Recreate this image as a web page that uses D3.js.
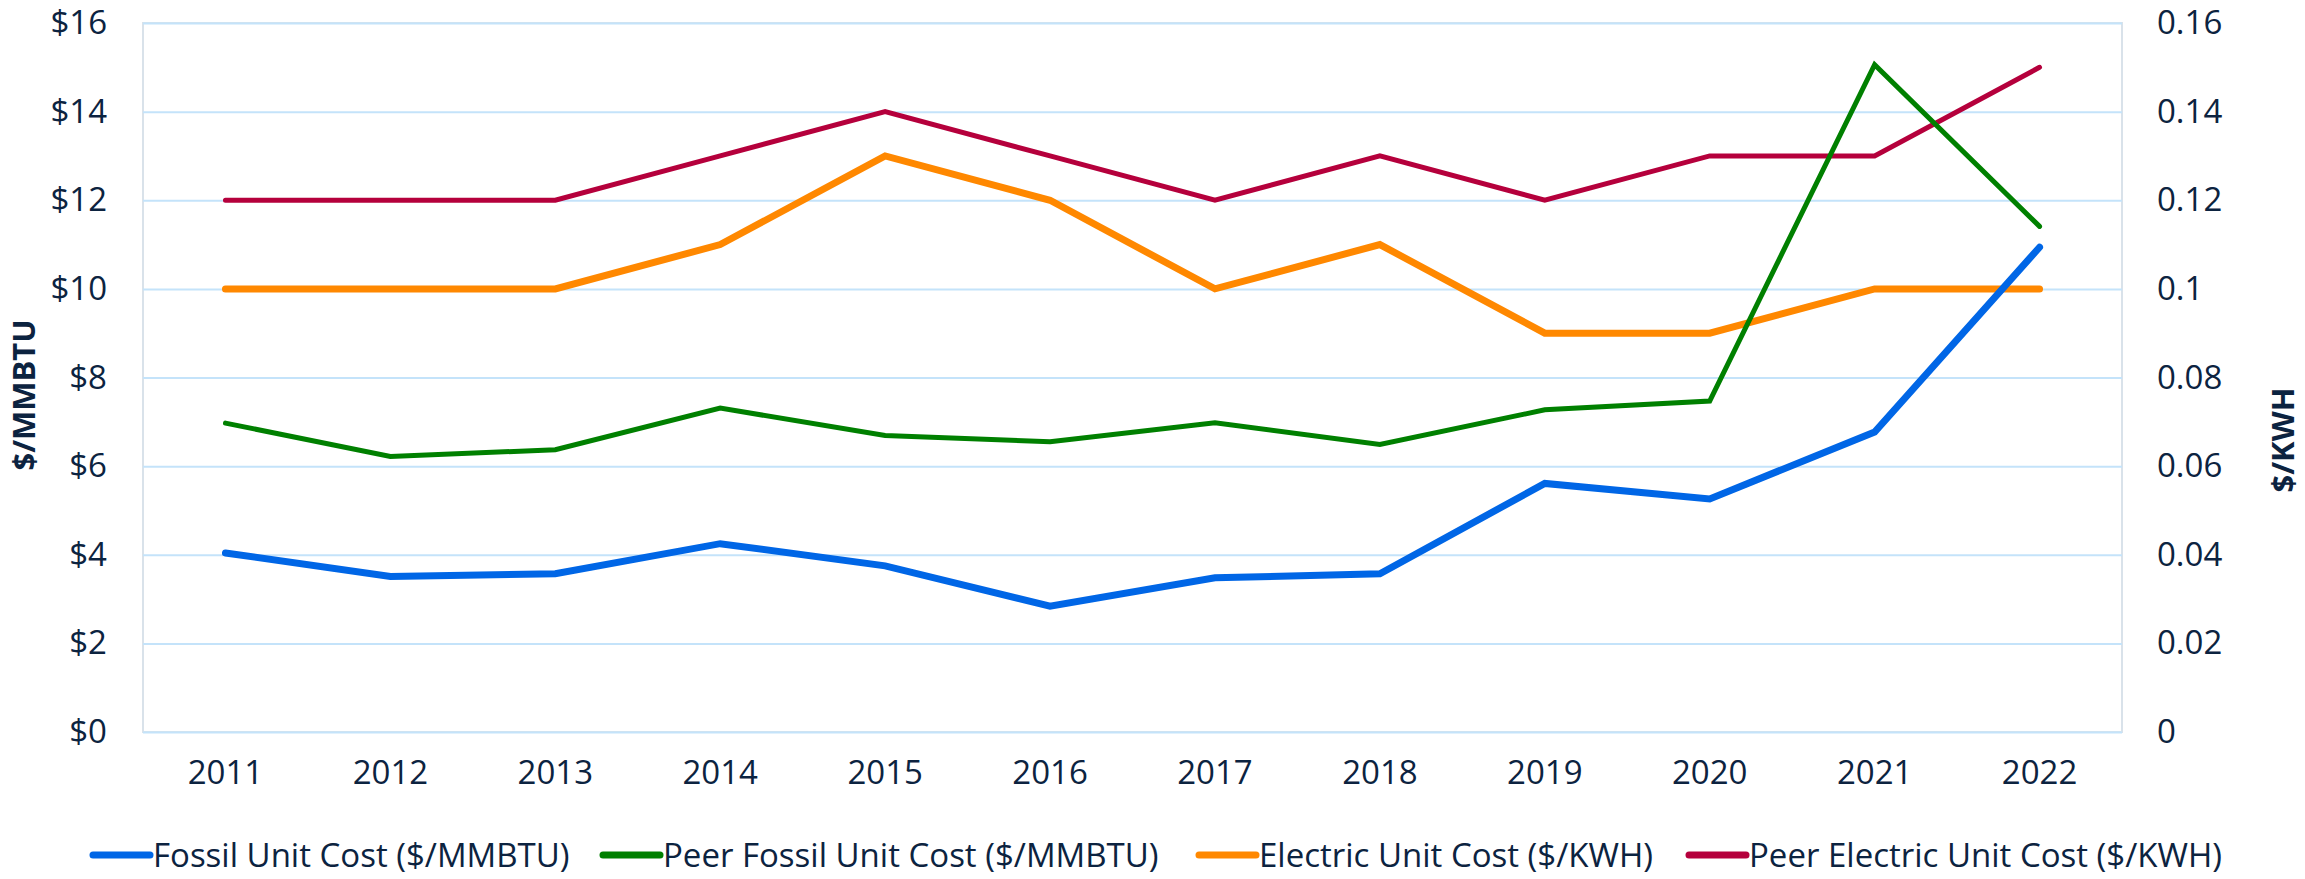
<!DOCTYPE html>
<html lang="en">
<head>
    <meta charset="UTF-8">
    <title>Unit Cost Chart</title>
    <style>
        body { margin: 0; background: #fff; }
        text { font-family: "Open Sans", sans-serif; fill: #0c2340; }
    </style>
</head>
<body>
    <div id="chart"></div>

    <script src="https://d3js.org/d3.v7.min.js"></script>
    <script>
        var years = ["2011", "2012", "2013", "2014", "2015", "2016", "2017", "2018", "2019", "2020", "2021", "2022"];

        // $/MMBTU (left axis)
        var fossilCost = [4.04, 3.51, 3.57, 4.25, 3.75, 2.84, 3.48, 3.57, 5.61, 5.26, 6.77, 10.94];
        var peerFossilCost = [6.97, 6.22, 6.37, 7.31, 6.69, 6.55, 6.98, 6.49, 7.27, 7.47, 15.06, 11.41];

        // $/KWH (right axis)
        var electricCost = [0.10, 0.10, 0.10, 0.11, 0.13, 0.12, 0.10, 0.11, 0.09, 0.09, 0.10, 0.10];
        var peerElectricCost = [0.12, 0.12, 0.12, 0.13, 0.14, 0.13, 0.12, 0.13, 0.12, 0.13, 0.13, 0.15];

        var leftTicks = [0, 2, 4, 6, 8, 10, 12, 14, 16];
        var rightTicks = [0, 0.02, 0.04, 0.06, 0.08, 0.1, 0.12, 0.14, 0.16];

        var seriesNames = ["Fossil Unit Cost ($/MMBTU)", "Peer Fossil Unit Cost ($/MMBTU)",
                           "Electric Unit Cost ($/KWH)", "Peer Electric Unit Cost ($/KWH)"];

        var W = 2305, H = 879;
        var margin = { top: 23, right: 183, bottom: 147, left: 143 };
        var width = W - margin.left - margin.right;
        var height = H - margin.top - margin.bottom;
        var fontSize = "33px";

        var svg = d3.select("#chart")
            .append("svg")
                .attr("width", W)
                .attr("height", H);

        var g = svg.append("g")
            .attr("transform", "translate(" + margin.left + "," + margin.top + ")");

        var xScale = d3.scaleBand()
            .domain(years)
            .range([0, width]);

        var yLeft = d3.scaleLinear()
            .domain([0, 16])
            .range([height, 0]);

        var yRight = d3.scaleLinear()
            .domain([0, 0.16])
            .range([height, 0]);

        // plot border
        g.append("rect")
            .attr("width", width)
            .attr("height", height)
            .style("fill", "none")
            .style("stroke", "#d9e2ea")
            .style("stroke-width", 2);

        // gridlines
        var grid = d3.axisLeft(yLeft)
            .tickValues(leftTicks)
            .tickSize(-width)
            .tickFormat("");
        var gGrid = g.append("g").call(grid);
        gGrid.select(".domain").remove();
        gGrid.selectAll("line")
            .style("stroke", "#c4e3fa")
            .style("stroke-width", 2);

        function styleText(sel){
            sel.selectAll("text")
                .style("font-size", fontSize)
                .style("font-family", "'Open Sans', sans-serif")
                .style("fill", "#0c2340");
        }

        // left axis
        var leftAxis = d3.axisLeft(yLeft)
            .tickValues(leftTicks)
            .tickSize(0)
            .tickPadding(36)
            .tickFormat(function(d){ return "$" + d; });
        var gLeft = g.append("g").call(leftAxis);
        gLeft.select(".domain").remove();
        styleText(gLeft);

        // right axis
        var rightAxis = d3.axisRight(yRight)
            .tickValues(rightTicks)
            .tickSize(0)
            .tickPadding(35)
            .tickFormat(d3.format("~g"));
        var gRight = g.append("g")
            .attr("transform", "translate(" + width + ",0)")
            .call(rightAxis);
        gRight.select(".domain").remove();
        styleText(gRight);

        // bottom axis
        var bottomAxis = d3.axisBottom(xScale)
            .tickSize(0)
            .tickPadding(29);
        var gBottom = g.append("g")
            .attr("transform", "translate(0," + height + ")")
            .call(bottomAxis);
        gBottom.select(".domain").remove();
        styleText(gBottom);

        // axis titles
        svg.append("text")
            .attr("transform", "translate(24,395) rotate(-90)")
            .attr("text-anchor", "middle")
            .attr("dy", "0.35em")
            .style("font-size", "31px")
            .style("font-weight", "bold")
            .text("$/MMBTU");

        svg.append("text")
            .attr("transform", "translate(2283,440) rotate(-90)")
            .attr("text-anchor", "middle")
            .attr("dy", "0.35em")
            .style("font-size", "31px")
            .style("font-weight", "bold")
            .text("$/KWH");

        var series = [
            { name: seriesNames[0], values: fossilCost, scale: yLeft, color: "#0066e6", w: 7 },
            { name: seriesNames[1], values: peerFossilCost, scale: yLeft, color: "#008000", w: 5 },
            { name: seriesNames[2], values: electricCost, scale: yRight, color: "#ff8800", w: 7 },
            { name: seriesNames[3], values: peerElectricCost, scale: yRight, color: "#b5003c", w: 5 }
        ];

        // draw order: peer electric / electric / peer fossil / fossil
        [3, 2, 1, 0].forEach(function(k){
            var s = series[k];
            var line = d3.line()
                .x(function(d, i){ return xScale(years[i]) + xScale.bandwidth() / 2; })
                .y(function(d){ return s.scale(d); });
            g.append("path")
                .datum(s.values)
                .attr("d", line)
                .style("fill", "none")
                .style("stroke", s.color)
                .style("stroke-width", s.w)
                .style("stroke-linecap", "round")
                .style("stroke-linejoin", "miter");
        });

        // legend
        var legendX = [93, 603, 1199, 1689];
        var legend = svg.append("g")
            .attr("transform", "translate(0,855)");
        series.forEach(function(s, i){
            var item = legend.append("g")
                .attr("transform", "translate(" + legendX[i] + ",0)");
            item.append("line")
                .attr("x1", 0)
                .attr("x2", 57)
                .style("stroke", s.color)
                .style("stroke-width", 7)
                .style("stroke-linecap", "round");
            item.append("text")
                .attr("x", 60)
                .attr("dy", "0.35em")
                .style("font-size", fontSize)
                .text(s.name);
        });
    </script>
</body>
</html>
